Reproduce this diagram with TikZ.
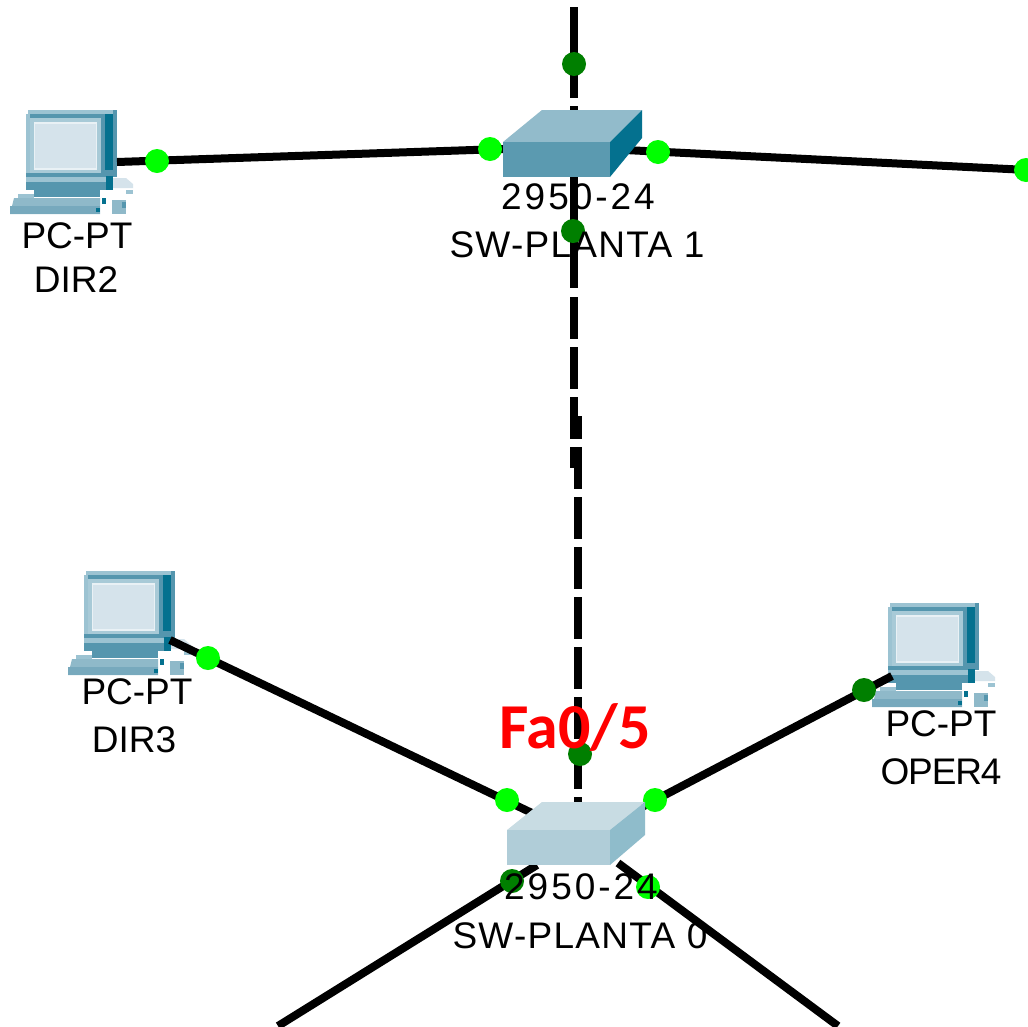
\documentclass[tikz,border=0pt]{standalone}
\usepackage{fontspec}
\usetikzlibrary{backgrounds}
\setmainfont{Liberation Sans}
\newfontfamily\lbldigits[LetterSpace=8]{Liberation Sans}
\newfontfamily\lblsw[LetterSpace=3.5]{Liberation Sans}
\newfontfamily\lbloper[LetterSpace=-3]{Liberation Sans}
\newfontfamily\lblfa{Carlito}
\definecolor{linkon}{HTML}{00FF00}
\definecolor{linkdark}{HTML}{007F00}
\definecolor{pcedge}{HTML}{5596AE}
\definecolor{pclight}{HTML}{9CC3D2}
\definecolor{pcmid}{HTML}{A8CAD7}
\definecolor{pcscreen}{HTML}{D5E3EB}
\definecolor{pcglow}{HTML}{E9F1F5}
\definecolor{pcdark}{HTML}{04718F}
\definecolor{pckey}{HTML}{8FB9C9}
\definecolor{pckeyb}{HTML}{77A9BD}
\definecolor{swfront}{HTML}{5B9AB0}
\definecolor{swtop}{HTML}{92BBCB}
\definecolor{swside}{HTML}{04718F}
\definecolor{swfrontb}{HTML}{B0CDD8}
\definecolor{swtopb}{HTML}{C8DCE3}
\definecolor{swsideb}{HTML}{8FBCCB}
\tikzset{
  x=1pt,y=-1pt,
  wire/.style={draw=black,line width=8pt},
  dashwire/.style={wire,dash pattern=on 42pt off 8pt},
  dotb/.style={circle,fill=linkon,minimum size=24pt,inner sep=0pt},
  dotd/.style={circle,fill=linkdark,minimum size=24pt,inner sep=0pt},
  lbl/.style={text=black,font=\fontsize{37}{37}\selectfont,inner sep=0pt},
  lbldig/.style={text=black,font=\lbldigits\fontsize{37}{37}\selectfont,inner sep=0pt},
  lblswitch/.style={text=black,font=\lblsw\fontsize{37}{37}\selectfont,inner sep=0pt},
  lblop/.style={text=black,font=\lbloper\fontsize{37}{37}\selectfont,inner sep=0pt},
  falbl/.style={text=red,font=\lblfa\bfseries\fontsize{64}{64}\selectfont,inner sep=0pt}
}
\newcommand{\pcicon}[2]{%
  \begin{scope}[shift={(#1,#2)}]
    \fill[pclight] (2,0) rectangle (91,4);
    \fill[pcedge] (0,4) rectangle (91,67);
    \fill[pclight] (0,4) rectangle (4,63);
    \fill[pcmid] (4,8) rectangle (75,63);
    \fill[pcglow] (8,12) rectangle (71,60);
    \fill[pcscreen] (9,14) rectangle (70,58);
    \fill[pcdark] (79,4) rectangle (87,60);
    \fill[pcedge] (87,0) rectangle (91,62);
    \fill[pcedge] (4,63) rectangle (82,67);
    \fill[pcscreen] (84,68) -- (100,68) -- (107,74) -- (107,78) -- (84,78) -- cycle;
    \fill[pclight] (100,80) rectangle (107,84);
    \fill[pclight] (0,67) rectangle (82,72);
    \fill[pcedge] (0,72) rectangle (82,80);
    \fill[pcdark] (80,66) rectangle (87,80);
    \fill[pcedge] (8,80) rectangle (74,87);
    \fill[pclight] (-8,84) rectangle (8,88);
    \fill[pckey] (-12,88) -- (74,88) -- (74,104) -- (-16,104) -- cycle;
    \fill[pckeyb] (-16,96) rectangle (74,104);
    \fill[pcdark] (76,88) rectangle (80,94);
    \fill[pcdark] (70,98) rectangle (74,102);
    \fill[pckey] (86,90) rectangle (100,104);
    \fill[pcedge] (96,92) rectangle (100,98);
  \end{scope}}
\begin{document}
\begin{tikzpicture}
\useasboundingbox (0,0) rectangle (1028,1026);

% named ends
\coordinate (pcA) at (117,162);
\coordinate (pcB) at (170,640);
\coordinate (pcC) at (892,676);
\coordinate (swAl) at (503,149);
\coordinate (swAr) at (625,150);
\coordinate (swAb) at (574,177);
\coordinate (swAt) at (574,110);
\coordinate (swBl) at (532,813);
\coordinate (swBr) at (642,807);
\coordinate (swBt) at (578,802);
\coordinate (swBbl) at (537,865);
\coordinate (swBbr) at (618,863);
\coordinate (upEnd) at (574,7);
\coordinate (upGap) at (574,98);
\coordinate (upGapB) at (574,106);
\coordinate (rightEnd) at (1028,170);
\coordinate (blEnd) at (278,1026);
\coordinate (brEnd) at (838,1026);
\coordinate (dashA) at (574,297);
\coordinate (dashAe) at (574,468);
\coordinate (dashB) at (578,416);
\coordinate (solidEnd) at (574,288);

% dots
\node[dotb] (d1) at (157,161) {};
\node[dotb] (d2) at (490,149) {};
\node[dotb] (d3) at (658,152) {};
\node[dotb] (d4) at (1026,170) {};
\node[dotd] (d5) at (574,64) {};
\node[dotd] (d6) at (573,231) {};
\node[dotb] (d7) at (208,658) {};
\node[dotb] (d8) at (507,800) {};
\node[dotb] (d9) at (655,800) {};
\node[dotd] (d10) at (864,690) {};
\node[dotd] (d11) at (580,754) {};
\node[dotd] (d12) at (512,881) {};
\node[dotb] (d13) at (648,887) {};

\begin{pgfonlayer}{background}
\fill[white] (0,0) rectangle (1028,1026);
% PCs
\pcicon{26}{110}
\pcicon{84}{571}
\pcicon{888}{603}
% connectors
\path[wire] (pcA) -- (swAl);
\path[wire] (swAr) -- (rightEnd);
\path[wire] (upEnd) -- (upGap);
\path[wire] (upGapB) -- (swAt);
\path[wire] (swAb) -- (solidEnd);
\path[dashwire] (dashA) -- (dashAe);
\path[dashwire,dash phase=19pt] (dashB) -- (swBt);
\path[wire] (pcB) -- (swBl);
\path[wire] (pcC) -- (swBr);
\path[wire] (swBbl) -- (blEnd);
\path[wire] (swBbr) -- (brEnd);
\end{pgfonlayer}

% switch 1
\fill[swtop] (542,110) -- (642,110) -- (610,142) -- (503,142) -- cycle;
\fill[swfront] (503,142) rectangle (610,177);
\fill[swside] (610,142) -- (642,110) -- (642,138) -- (610,177) -- cycle;

% switch 0
\fill[swtopb] (542,802) -- (645,802) -- (610,830) -- (507,830) -- cycle;
\fill[swfrontb] (507,830) rectangle (610,865);
\fill[swsideb] (610,830) -- (645,802) -- (645,835) -- (610,865) -- cycle;

% labels
\node[lbl] (l1) at (77,236) {PC-PT};
\node[lbl] (l2) at (76,280) {DIR2};
\node[lbldig] (l3) at (578,197) {2950-24};
\node[lblswitch] (l4) at (577,245) {SW-PLANTA 1};
\node[lbl] (l5) at (137,692) {PC-PT};
\node[lbl] (l6) at (134,740) {DIR3};
\node[lbl] (l7) at (941,724) {PC-PT};
\node[lblop] (l8) at (941,772) {OPER4};
\node[lbldig] (l9) at (581,887) {2950-24};
\node[lblswitch] (l10) at (580,936) {SW-PLANTA 0};
\node[falbl] (fa) at (575,727) {Fa0/5};
\end{tikzpicture}
\end{document}
